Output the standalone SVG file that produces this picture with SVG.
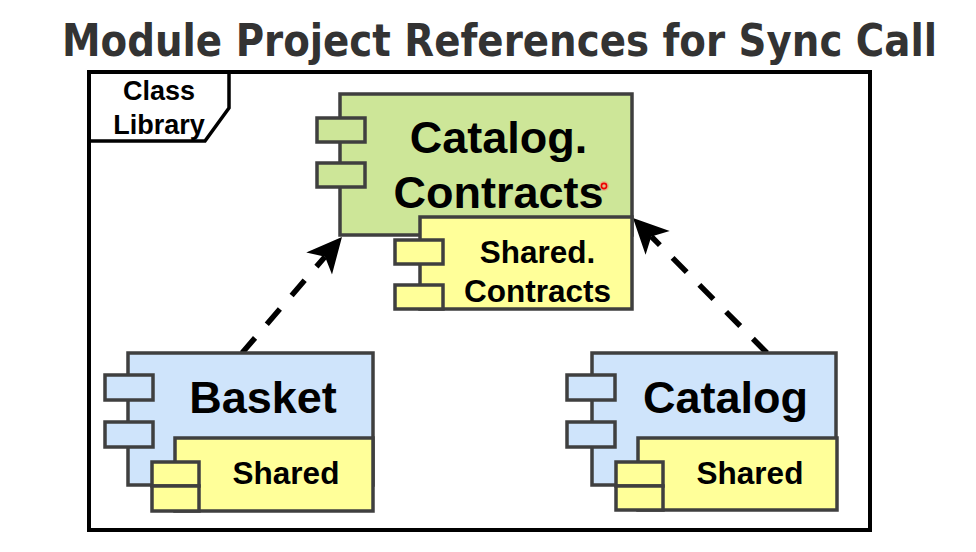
<svg xmlns="http://www.w3.org/2000/svg" width="976" height="552" viewBox="0 0 976 552">
<defs>
<style>
.box{stroke:#3f3f3f;stroke-width:3.5}
.g{fill:#cde698}
.b{fill:#cfe4fb}
.y{fill:#ffff99}
.t{font-family:"Liberation Sans",Arial,sans-serif;font-weight:bold;fill:#000;text-anchor:middle}
.big{font-size:45px}
.sm{font-size:31.5px}
.con{fill:none;stroke:#000;stroke-width:5.5;stroke-dasharray:20 18;marker-end:url(#ah)}
</style>
<marker id="ah" markerUnits="userSpaceOnUse" markerWidth="44" markerHeight="44" viewBox="-38 -22 44 44" refX="-26" refY="0" orient="auto" overflow="visible">
<path d="M0,0 L-35,-17 L-26,0 L-35,17 Z" fill="#000"/>
</marker>
</defs>
<rect width="976" height="552" fill="#fff"/>
<text x="499.5" y="56" textLength="875" lengthAdjust="spacingAndGlyphs" style="font-family:'DejaVu Sans Condensed','DejaVu Sans',sans-serif;font-weight:bold;font-size:44px;fill:#333;text-anchor:middle">Module Project References for Sync Call</text>
<g id="frame">
<rect x="89" y="72" width="781" height="458" fill="none" stroke="#000" stroke-width="4"/>
<path d="M89,141 L205,141 L229,108 L229,72" fill="none" stroke="#000" stroke-width="3.5"/>
<text class="t" x="159" y="100" style="font-size:27px">Class</text>
<text class="t" x="159" y="134" style="font-size:27px">Library</text>
</g>
<g id="connectors">
<path class="con" d="M242,353 L325,256.7"/>
<path class="con" d="M767,353 L651.3,236.5"/>
</g>
<g id="catalog-contracts">
<rect class="box g" x="340" y="94" width="292" height="141"/>
<rect class="box g" x="317" y="118" width="48" height="24"/>
<rect class="box g" x="317" y="163" width="48" height="24"/>
<text class="t big" x="498.5" y="153">Catalog.</text>
<text class="t big" x="498.5" y="208">Contracts</text>
<circle cx="604" cy="186" r="5" fill="#ff6a6a" opacity="0.35"/>
<circle cx="604" cy="186" r="2.6" fill="none" stroke="#e00" stroke-width="1.6"/>
</g>
<g id="shared-contracts">
<rect class="box y" x="420" y="217" width="212" height="92"/>
<rect class="box y" x="395" y="240" width="48" height="24"/>
<rect class="box y" x="395" y="285" width="48" height="24"/>
<text class="t sm" x="537.5" y="263">Shared.</text>
<text class="t sm" x="537.5" y="302">Contracts</text>
</g>
<g id="basket">
<rect class="box b" x="128" y="353" width="245" height="132"/>
<rect class="box b" x="105" y="375" width="48" height="25"/>
<rect class="box b" x="105" y="422" width="48" height="25"/>
<text class="t big" x="263" y="413">Basket</text>
</g>
<g id="basket-shared">
<rect class="box y" x="175" y="438" width="198" height="73"/>
<rect class="box y" x="152" y="462" width="47" height="24"/>
<rect class="box y" x="152" y="486" width="47" height="25"/>
<text class="t sm" x="286" y="484">Shared</text>
</g>
<g id="catalog">
<rect class="box b" x="592" y="353" width="244" height="132"/>
<rect class="box b" x="567" y="375" width="48" height="25"/>
<rect class="box b" x="567" y="422" width="48" height="25"/>
<text class="t big" x="725.5" y="413">Catalog</text>
</g>
<g id="catalog-shared">
<rect class="box y" x="638" y="438" width="199" height="72"/>
<rect class="box y" x="616" y="462" width="47" height="24"/>
<rect class="box y" x="616" y="486" width="47" height="24"/>
<text class="t sm" x="750" y="484">Shared</text>
</g>
</svg>
